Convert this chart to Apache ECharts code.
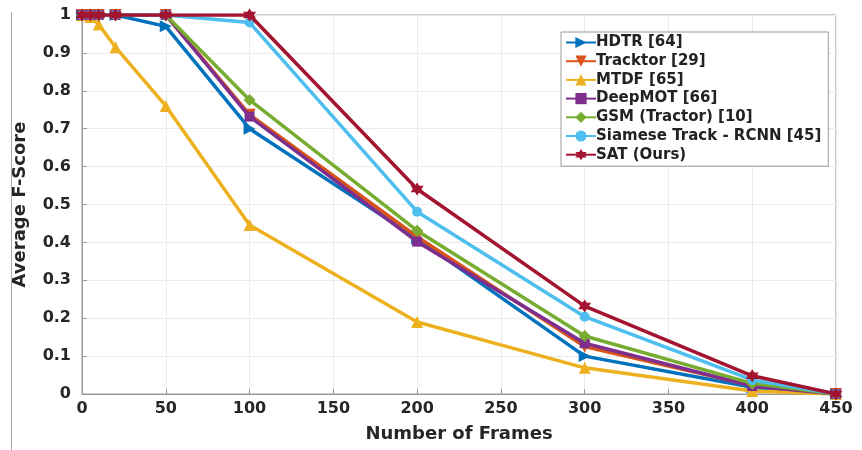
<!DOCTYPE html>
<html><head><meta charset="utf-8">
<script src="https://cdn.jsdelivr.net/npm/echarts@6/dist/echarts.min.js"></script>
<style>html,body{margin:0;padding:0;background:#fff}#c{width:862px;height:450px}</style>
</head><body><div id="c"></div>
<script>
const frames = [0, 5, 10, 20, 50, 100, 200, 300, 400, 450];
const seriesNames = ['HDTR [64]', 'Tracktor [29]', 'MTDF [65]', 'DeepMOT [66]', 'GSM (Tractor) [10]', 'Siamese Track - RCNN [45]', 'SAT (Ours)'];
const hdtr     = [1, 1, 1, 1, 0.97, 0.70, 0.41, 0.10, 0.018, 0];
const tracktor = [1, 1, 1, 1, 1, 0.737, 0.415, 0.125, 0.022, 0];
const mtdf     = [1, 0.995, 0.975, 0.915, 0.76, 0.446, 0.19, 0.069, 0.008, 0];
const deepmot  = [1, 1, 1, 1, 1, 0.732, 0.402, 0.134, 0.021, 0];
const gsm      = [1, 1, 1, 1, 1, 0.776, 0.431, 0.153, 0.028, 0];
const siamese  = [1, 1, 1, 1, 1, 0.98, 0.481, 0.204, 0.037, 0];
const sat      = [1, 1, 1, 1, 1, 1, 0.541, 0.232, 0.048, 0];
const xTicks = [0, 50, 100, 150, 200, 250, 300, 350, 400, 450];
const yTicks = [0, 0.1, 0.2, 0.3, 0.4, 0.5, 0.6, 0.7, 0.8, 0.9, 1];

const allValues = [hdtr, tracktor, mtdf, deepmot, gsm, siamese, sat];
const colors = ['#0072BD', '#D95319', '#EDB120', '#7E2F8E', '#77AC30', '#4DBEEE', '#A2142F'];
const symbols = [
  'path://M0,0 L10,5 L0,10 Z',
  'path://M0,0 L10,0 L5,10 Z',
  'triangle',
  'rect',
  'diamond',
  'circle',
  'path://M10,0 L12.885,5 L18.66,5 L15.77,10 L18.66,15 L12.885,15 L10,20 L7.115,15 L1.34,15 L4.23,10 L1.34,5 L7.115,5 Z'
];
const sizes = [12, 12, 12, 10, 12, 10, 13];
const font = 'DejaVu Sans';

const chart = echarts.init(document.getElementById('c'), null, {renderer: 'canvas'});
chart.setOption({
  animation: false,
  backgroundColor: '#fff',
  textStyle: {fontFamily: font},
  grid: {left: 82, right: 26, top: 15, bottom: 56, show: false},
  legend: {
    orient: 'vertical', left: 561, top: 32,
    itemWidth: 30, itemHeight: 14, itemGap: 3.7,
    padding: [3, 7, 4, 4],
    borderColor: '#999', borderWidth: 1, backgroundColor: '#fff',
    textStyle: {fontFamily: font, fontWeight: 'bold', fontSize: 15, color: '#222', padding: [0, 0, 0, -5]},
    data: seriesNames
  },
  xAxis: {
    type: 'value', min: 0, max: 450, interval: 50,
    name: 'Number of Frames', nameLocation: 'middle', nameGap: 31,
    nameTextStyle: {fontFamily: font, fontWeight: 'bold', fontSize: 18, color: '#262626'},
    axisLine: {show: true, onZero: false, lineStyle: {color: '#999', width: 1}},
    axisTick: {show: true, inside: true, length: 5, lineStyle: {color: '#999'}},
    axisLabel: {fontFamily: font, fontWeight: 'bold', fontSize: 16, color: '#262626', margin: 7,
      formatter: v => xTicks.includes(v) ? String(v) : ''},
    splitLine: {show: true, lineStyle: {color: '#ebebeb', width: 1}}
  },
  yAxis: {
    type: 'value', min: 0, max: 1, interval: 0.1,
    name: 'Average F-Score', nameLocation: 'middle', nameGap: 53,
    nameTextStyle: {fontFamily: font, fontWeight: 'bold', fontSize: 18, color: '#262626'},
    axisLine: {show: true, lineStyle: {color: '#999', width: 1}},
    axisTick: {show: true, inside: true, length: 5, lineStyle: {color: '#999'}},
    axisLabel: {fontFamily: font, fontWeight: 'bold', fontSize: 16, color: '#262626', margin: 11,
      formatter: v => { const r = Math.round(v * 10) / 10; return yTicks.includes(r) ? String(r) : ''; }},
    splitLine: {show: true, lineStyle: {color: '#ebebeb', width: 1}}
  },
  graphic: [
    {type: 'rect', shape: {x: 82, y: 15, width: 754, height: 379}, style: {fill: 'none', stroke: '#999', lineWidth: 1}, silent: true, z: 0},
    {type: 'line', shape: {x1: 11.5, y1: 12, x2: 11.5, y2: 450}, style: {stroke: '#aaa', lineWidth: 1}, silent: true}
  ],
  series: seriesNames.map((n, i) => ({
    name: n, type: 'line',
    data: frames.map((f, j) => [f, allValues[i][j]]),
    symbol: symbols[i], symbolSize: sizes[i], showAllSymbol: true,
    lineStyle: {color: colors[i], width: 3.5},
    itemStyle: {color: colors[i], borderWidth: 0},
    z: 2 + i
  }))
});
</script></body></html>
